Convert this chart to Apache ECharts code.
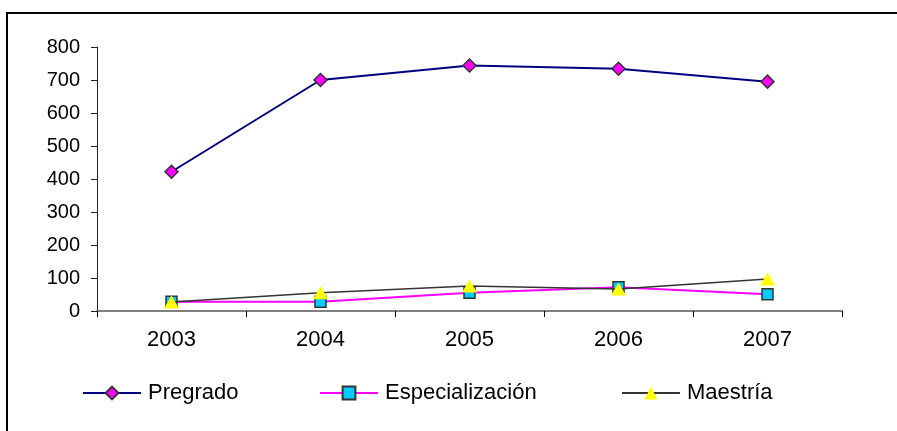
<!DOCTYPE html>
<html>
<head>
<meta charset="utf-8">
<script src="https://cdn.jsdelivr.net/npm/echarts@6/dist/echarts.min.js"></script>
<style>
html,body{margin:0;padding:0;background:#fff;}
#chart{width:897px;height:431px;}
</style>
</head>
<body>
<div id="chart"></div>
<script>
const categories = ['2003', '2004', '2005', '2006', '2007'];
const pregrado = [422, 700, 744, 734, 695];
const especializacion = [28, 28, 55, 72, 51];
const maestria = [27, 55, 76, 67, 97];
const yTicks = [0, 100, 200, 300, 400, 500, 600, 700, 800];

const FONT = '"Liberation Sans", Arial, sans-serif';
const chart = echarts.init(document.getElementById('chart'));
const legendBase = {
  orient: 'horizontal',
  top: 382,
  padding: 0,
  itemWidth: 58,
  itemHeight: 16,
  itemGap: 0,
  textStyle: { fontFamily: FONT, fontSize: 22, color: '#000', padding: [0, 0, 0, 2] }
};
chart.setOption({
  animation: false,
  backgroundColor: '#fff',
  graphic: [{
    type: 'rect',
    shape: { x: 7, y: 13, width: 900, height: 430 },
    style: { fill: 'none', stroke: '#000', lineWidth: 2 },
    silent: true
  }],
  grid: { left: 97, right: 55, top: 47, bottom: 120 },
  legend: [
    Object.assign({}, legendBase, { left: 82, data: ['Pregrado'] }),
    Object.assign({}, legendBase, { left: 319, data: ['Especialización'] }),
    Object.assign({}, legendBase, { left: 621, data: ['Maestría'] })
  ],
  xAxis: {
    type: 'category',
    data: categories,
    boundaryGap: true,
    axisLine: { lineStyle: { color: '#808080', width: 2 } },
    axisTick: { show: true, length: 6, lineStyle: { color: '#000', width: 1 } },
    axisLabel: { margin: 18, fontFamily: FONT, fontSize: 22, color: '#000' },
    splitLine: { show: false }
  },
  yAxis: {
    type: 'value',
    min: yTicks[0],
    max: yTicks[yTicks.length - 1],
    interval: 100,
    axisLine: { show: true, lineStyle: { color: '#222', width: 1 } },
    axisTick: { show: true, length: 6, lineStyle: { color: '#222', width: 1 } },
    axisLabel: { margin: 17, fontFamily: FONT, fontSize: 20, color: '#000' },
    splitLine: { show: false }
  },
  series: [
    {
      name: 'Pregrado', type: 'line', data: pregrado,
      symbol: 'diamond', symbolSize: 13,
      lineStyle: { color: '#000080', width: 2 },
      itemStyle: { color: '#FF00FF', borderColor: '#333', borderWidth: 1.5 },
      z: 3
    },
    {
      name: 'Especialización', type: 'line', data: especializacion,
      symbol: 'rect', symbolSize: 11,
      lineStyle: { color: '#FF00FF', width: 2 },
      itemStyle: { color: '#00CCFF', borderColor: '#333', borderWidth: 1.5 },
      z: 4
    },
    {
      name: 'Maestría', type: 'line', data: maestria,
      symbol: 'triangle', symbolSize: [15, 13],
      lineStyle: { color: '#333', width: 1.5 },
      itemStyle: { color: '#FFFF00', borderWidth: 0 },
      z: 5
    }
  ]
});
</script>
</body>
</html>
